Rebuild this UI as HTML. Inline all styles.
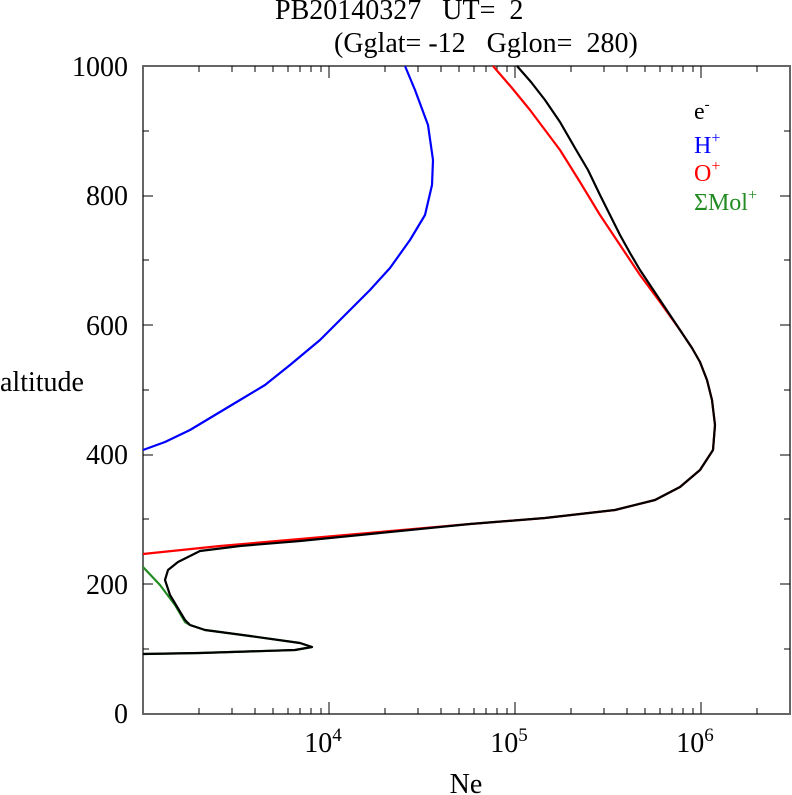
<!DOCTYPE html>
<html><head><meta charset="utf-8"><style>
html,body{margin:0;padding:0;background:#fff}
svg{display:block;font-family:"Liberation Serif",serif}
</style></head><body>
<svg width="792" height="795" viewBox="0 0 792 795" xmlns="http://www.w3.org/2000/svg">
<rect x="143" y="66" width="647" height="648" fill="none" stroke="#666" stroke-width="2"/>
<g stroke="#000" stroke-width="1">
<g id="xt">
<line x1="199" y1="714" x2="199" y2="708"/><line x1="232" y1="714" x2="232" y2="708"/><line x1="255" y1="714" x2="255" y2="708"/><line x1="273" y1="714" x2="273" y2="708"/><line x1="288" y1="714" x2="288" y2="708"/><line x1="300" y1="714" x2="300" y2="708"/><line x1="311" y1="714" x2="311" y2="708"/><line x1="321" y1="714" x2="321" y2="708"/>
<line x1="329" y1="714" x2="329" y2="702"/>
<line x1="385" y1="714" x2="385" y2="708"/><line x1="418" y1="714" x2="418" y2="708"/><line x1="441" y1="714" x2="441" y2="708"/><line x1="459" y1="714" x2="459" y2="708"/><line x1="474" y1="714" x2="474" y2="708"/><line x1="486" y1="714" x2="486" y2="708"/><line x1="497" y1="714" x2="497" y2="708"/><line x1="507" y1="714" x2="507" y2="708"/>
<line x1="515" y1="714" x2="515" y2="702"/>
<line x1="571" y1="714" x2="571" y2="708"/><line x1="604" y1="714" x2="604" y2="708"/><line x1="627" y1="714" x2="627" y2="708"/><line x1="645" y1="714" x2="645" y2="708"/><line x1="660" y1="714" x2="660" y2="708"/><line x1="672" y1="714" x2="672" y2="708"/><line x1="683" y1="714" x2="683" y2="708"/><line x1="693" y1="714" x2="693" y2="708"/>
<line x1="701" y1="714" x2="701" y2="702"/>
<line x1="757" y1="714" x2="757" y2="708"/>
</g>
<use href="#xt" transform="translate(0,780) scale(1,-1)"/>
<g id="yt">
<line x1="143" y1="649" x2="149" y2="649"/><line x1="143" y1="584" x2="153" y2="584"/><line x1="143" y1="519" x2="149" y2="519"/><line x1="143" y1="455" x2="153" y2="455"/><line x1="143" y1="390" x2="149" y2="390"/><line x1="143" y1="325" x2="153" y2="325"/><line x1="143" y1="260" x2="149" y2="260"/><line x1="143" y1="196" x2="153" y2="196"/><line x1="143" y1="131" x2="149" y2="131"/>
</g>
<use href="#yt" transform="translate(933,0) scale(-1,1)"/>
</g>
<g font-size="28" text-anchor="end">
<text x="128" y="723">0</text><text x="128" y="594">200</text><text x="128" y="464">400</text><text x="128" y="335">600</text><text x="128" y="205">800</text><text x="128" y="76">1000</text>
</g>
<text x="0" y="391" font-size="28">altitude</text>
<g font-size="28" text-anchor="middle">
<text x="323" y="752">10<tspan font-size="19" dy="-11">4</tspan></text>
<text x="509" y="752">10<tspan font-size="19" dy="-11">5</tspan></text>
<text x="695" y="752">10<tspan font-size="19" dy="-11">6</tspan></text>
<text x="466" y="793">Ne</text>
</g>
<text x="275" y="19" font-size="28">PB20140327&#160;&#160;&#160;UT=&#160;&#160;2</text>
<text x="334" y="52" font-size="28">(Gglat=&#160;-12&#160;&#160;&#160;Gglon=&#160;&#160;280)</text>
<g font-size="24">
<text x="694" y="119" fill="#000">e<tspan font-size="15" dy="-10">-</tspan></text>
<text x="694" y="153" fill="#00f">H<tspan font-size="16" dy="-10">+</tspan></text>
<text x="694" y="181" fill="#f00">O<tspan font-size="16" dy="-10">+</tspan></text>
<text x="694" y="210" fill="#228b22">ΣMol<tspan font-size="16" dy="-10">+</tspan></text>
</g>
<g fill="none" stroke-width="2.2" stroke-linejoin="round">
<polyline stroke="#00f" points="405,66 415,90 428,125 433,160 432,185 425,215 410,240 390,268 370,290 345,315 320,340 290,365 265,385 240,400 215,415 190,430 165,442 143,450"/>
<polyline stroke="#228b22" points="143,567 160,585 175,605 185,622 190,625 205,630 250,636 300,643 312,647 295,650 200,653 143,654"/>
<polyline stroke="#f00" points="493,66 512,88 530,110 545,130 560,150 580,182 600,215 620,245 640,275 660,302 680,330 692,348 700,362 707,380 712,400 715,425 713,450 700,470 680,487 655,500 615,510 545,518 470,524 380,532 300,539 220,546 143,554"/>
<polyline stroke="#000" points="517,66 531,82 545,100 560,122 575,148 588,170 600,195 610,215 620,235 630,253 640,270 660,300 680,330 692,348 700,362 707,380 712,400 715,425 713,450 700,470 680,487 655,500 615,510 545,518 470,524 380,533 300,541 240,546 200,551 178,562 168,570 165,580 170,595 185,620 190,625 205,630 250,636 300,643 312,647 295,650 200,653 143,654"/>
</g>
</svg>
</body></html>
